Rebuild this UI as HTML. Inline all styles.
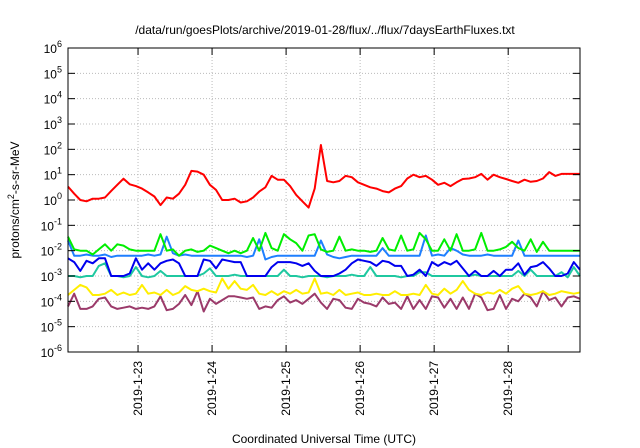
<!DOCTYPE html>
<html><head><meta charset="utf-8"><style>
html,body{margin:0;padding:0;background:#fff;}
svg{display:block;font-family:"Liberation Sans",sans-serif;}
</style></head><body>
<svg id="chart" width="640" height="448" viewBox="0 0 640 448" xmlns="http://www.w3.org/2000/svg">
<rect x="0" y="0" width="640" height="448" fill="#fff"/>
<text x="325" y="34" font-size="12" text-anchor="middle" fill="#000">/data/run/goesPlots/archive/2019-01-28/flux/../flux/7daysEarthFluxes.txt</text>
<text transform="translate(19,200) rotate(-90)" font-size="12" text-anchor="middle" fill="#000">protons/cm<tspan dy="-5" font-size="9">2</tspan><tspan dy="5">-s-sr-MeV</tspan></text>
<text x="324" y="443" font-size="12" text-anchor="middle" fill="#000">Coordinated Universal Time (UTC)</text>
<g id="grid"></g><g id="series"></g><g id="axes"></g>
</svg>
<script>
const yTickExps = [6,5,4,3,2,1,0,-1,-2,-3,-4,-5,-6];
const xTickDays = [23,24,25,26,27,28];
const xTickLabels = ["2019-1-23","2019-1-24","2019-1-25","2019-1-26","2019-1-27","2019-1-28"];
const tStart = 22.054, tEnd = 28.97;
const redLog = [0.53,0.25,0.0,-0.05,0.05,0.05,0.1,0.36,0.6,0.84,0.62,0.55,0.45,0.3,0.14,-0.2,0.1,0.05,0.25,0.6,1.15,1.12,1.0,0.6,0.4,0.0,0.0,0.05,-0.1,-0.05,0.1,0.33,0.5,0.95,0.8,0.8,0.55,0.2,-0.05,-0.3,0.45,2.17,0.75,0.7,0.75,0.95,0.9,0.7,0.6,0.5,0.45,0.35,0.3,0.45,0.55,0.85,1.0,0.9,0.95,0.8,0.6,0.68,0.55,0.7,0.83,0.85,0.9,1.03,0.8,1.0,0.9,0.83,0.75,0.68,0.8,0.72,0.75,0.85,1.1,0.95,1.03,1.03,1.03,1.03];
const greenLog = [-1.45,-1.95,-2.0,-2.0,-2.15,-1.95,-1.75,-2.0,-1.75,-1.8,-1.95,-2.0,-2.0,-2.0,-2.0,-1.35,-2.0,-1.95,-2.2,-2.0,-1.95,-2.05,-2.0,-1.8,-1.9,-2.0,-2.1,-2.0,-2.1,-2.0,-1.5,-2.0,-1.3,-1.9,-2.0,-1.35,-1.55,-1.7,-2.0,-1.4,-1.35,-1.95,-2.05,-2.0,-1.45,-2.0,-1.95,-2.0,-2.0,-2.05,-2.0,-1.5,-1.95,-2.0,-1.4,-2.0,-1.95,-1.3,-1.55,-2.0,-2.0,-1.55,-2.0,-1.35,-2.0,-2.0,-1.95,-1.3,-2.0,-2.0,-1.95,-1.85,-1.65,-1.9,-2.0,-1.55,-2.05,-1.65,-2.0,-2.0,-2.0,-2.0,-2.0,-2.0];
const lightBlueLog = [-1.6,-2.2,-2.2,-2.15,-2.2,-2.2,-2.15,-2.25,-2.2,-2.2,-2.2,-2.2,-2.2,-2.15,-2.2,-2.15,-1.45,-2.1,-2.2,-2.15,-2.2,-2.2,-2.2,-2.2,-2.2,-2.2,-2.2,-2.2,-2.2,-2.25,-2.2,-1.55,-2.35,-2.25,-2.2,-2.2,-2.2,-2.2,-2.2,-2.2,-2.2,-1.6,-2.15,-2.25,-2.3,-2.25,-2.2,-2.2,-2.2,-2.2,-2.2,-1.9,-2.2,-2.2,-2.2,-2.2,-2.2,-2.2,-1.4,-2.2,-2.15,-2.2,-1.9,-2.0,-2.15,-2.2,-2.2,-2.2,-2.15,-2.2,-2.2,-2.2,-2.2,-1.6,-2.2,-2.2,-2.2,-2.2,-2.2,-2.2,-2.2,-2.2,-2.2,-2.2];
const blueLog = [-2.3,-2.45,-2.8,-2.4,-2.5,-2.3,-2.3,-3.0,-3.0,-3.0,-2.9,-2.3,-2.75,-2.5,-2.75,-2.5,-2.4,-2.35,-2.5,-3.0,-3.0,-3.0,-2.35,-2.4,-2.7,-2.35,-2.4,-2.45,-2.45,-3.0,-3.0,-3.0,-3.0,-2.65,-2.45,-2.45,-2.45,-2.5,-2.6,-2.5,-2.8,-3.0,-3.0,-3.0,-2.9,-2.75,-2.5,-2.35,-2.4,-2.45,-2.6,-2.4,-2.45,-2.6,-2.6,-3.0,-2.95,-2.75,-3.0,-2.45,-2.6,-2.45,-2.55,-2.4,-2.7,-3.0,-2.8,-3.0,-3.0,-2.8,-3.0,-2.75,-2.75,-2.5,-2.95,-2.65,-2.6,-2.45,-2.7,-3.0,-3.0,-2.9,-2.45,-2.75];
const tealLog = [-3.0,-3.0,-3.05,-3.0,-3.0,-2.6,-2.5,-3.0,-3.0,-3.05,-3.0,-2.65,-3.0,-3.05,-3.0,-2.8,-3.0,-3.0,-3.0,-3.0,-3.0,-3.0,-2.9,-2.7,-3.0,-3.0,-3.0,-2.95,-3.0,-3.0,-3.0,-3.0,-3.0,-3.0,-3.0,-2.75,-3.0,-3.0,-3.05,-3.0,-3.0,-3.0,-3.05,-3.0,-3.0,-3.0,-2.95,-3.0,-3.0,-2.65,-3.0,-3.0,-3.0,-3.0,-3.05,-3.0,-3.0,-2.85,-2.85,-3.0,-3.0,-3.0,-3.0,-3.0,-3.0,-3.0,-2.95,-3.0,-3.0,-3.0,-3.0,-3.0,-3.0,-2.8,-3.0,-2.75,-3.0,-3.0,-3.0,-3.0,-2.85,-3.05,-2.65,-3.0];
const yellowLog = [-3.75,-3.55,-3.35,-3.45,-3.75,-3.75,-3.7,-3.55,-3.75,-3.65,-3.75,-3.7,-3.35,-3.7,-3.65,-3.75,-3.55,-3.75,-3.65,-3.4,-3.55,-3.6,-3.5,-3.6,-3.65,-3.1,-3.5,-3.2,-3.5,-3.55,-3.35,-3.7,-3.75,-3.6,-3.75,-3.6,-3.7,-3.55,-3.7,-3.65,-3.1,-3.7,-3.65,-3.75,-3.55,-3.75,-3.7,-3.65,-3.75,-3.75,-3.7,-3.75,-3.75,-3.6,-3.75,-3.75,-3.7,-3.75,-3.35,-3.7,-3.75,-3.5,-3.7,-3.55,-3.2,-3.55,-3.7,-3.75,-3.65,-3.7,-3.55,-3.7,-3.5,-3.4,-3.7,-3.75,-3.7,-3.6,-3.75,-3.7,-3.6,-3.65,-3.7,-3.65];
const purpleLog = [-4.2,-3.7,-4.3,-4.3,-4.2,-3.9,-3.85,-4.2,-4.3,-4.25,-4.2,-4.3,-4.25,-4.3,-4.2,-3.8,-4.35,-4.3,-4.1,-3.75,-4.15,-3.6,-4.4,-3.9,-4.1,-3.95,-3.8,-3.8,-3.85,-3.9,-3.85,-4.3,-4.2,-4.25,-3.95,-3.8,-4.05,-3.95,-4.1,-3.9,-3.7,-4.05,-4.3,-3.9,-3.95,-4.25,-4.3,-3.9,-4.05,-4.1,-4.2,-3.85,-4.1,-4.05,-4.3,-3.8,-4.3,-3.95,-4.3,-3.8,-3.85,-4.25,-3.9,-4.3,-3.85,-4.3,-3.7,-3.85,-4.35,-4.3,-3.75,-4.3,-3.9,-4.0,-3.7,-3.85,-4.2,-3.6,-3.95,-3.85,-4.2,-3.85,-3.8,-3.9];

const L=68, R=580, T=48, B=352;
const NS="http://www.w3.org/2000/svg";
function xScale(t){return L+(t-tStart)/(tEnd-tStart)*(R-L);}
function yScale(e){return B-(e+6)/12*(B-T);}
function mk(tag,attrs,parent){const el=document.createElementNS(NS,tag);for(const k in attrs)el.setAttribute(k,attrs[k]);parent.appendChild(el);return el;}
const grid=document.getElementById('grid'), axes=document.getElementById('axes'), ser=document.getElementById('series');

yTickExps.forEach(e=>{
  const y=yScale(e);
  if(e<6&&e>-6){const g=mk('line',{x1:L,x2:R,y1:y,y2:y,stroke:'#bbb','stroke-width':1,'stroke-dasharray':'1,2'},grid);
  
  }
  const t1=mk('line',{x1:L,x2:L+7,y1:y,y2:y,stroke:'#000'},axes);
  
  
  const t2=mk('line',{x1:R-7,x2:R,y1:y,y2:y,stroke:'#000'},axes);
  
  
  const tx=mk('text',{x:L-6,y:y+5,'font-size':12,'text-anchor':'end',fill:'#000'},axes);
  
  
  tx.appendChild(document.createTextNode('10'));
  const sp=mk('tspan',{dy:-6,'font-size':9},tx); sp.textContent=String(e).replace('-','-');
});
xTickDays.forEach((d,i)=>{
  const x=xScale(d);
  const g=mk('line',{x1:x,x2:x,y1:T,y2:B,stroke:'#bbb','stroke-width':1,'stroke-dasharray':'1,2'},grid);
  
  
  const t1=mk('line',{x1:x,x2:x,y1:B-7,y2:B,stroke:'#000'},axes);
  
  
  const t2=mk('line',{x1:x,x2:x,y1:T,y2:T+7,stroke:'#000'},axes);
  
  
  const tx=mk('text',{transform:`translate(${x+4},${B+9}) rotate(-90)`,'font-size':12,'text-anchor':'end',fill:'#000'},axes);
  
  
  tx.textContent=xTickLabels[i];
});
const frame=mk('rect',{x:L,y:T,width:R-L,height:B-T,fill:'none',stroke:'#000','stroke-width':1},axes);



function drawSeries(vals,color,name){
  const n=vals.length;
  const pts=vals.map((v,i)=>{const t=tStart+i*(tEnd-tStart)/(n-1);return xScale(t).toFixed(1)+','+yScale(v).toFixed(1);}).join(' ');
  const p=mk('polyline',{points:pts,fill:'none',stroke:color,'stroke-width':2,'stroke-linejoin':'round'},ser);
  
  
}
drawSeries(purpleLog,'#9b3a6a','series-purple');
drawSeries(yellowLog,'#ffee00','series-yellow');
drawSeries(tealLog,'#1fc8a0','series-teal');
drawSeries(blueLog,'#0000ee','series-blue');
drawSeries(lightBlueLog,'#1e7fff','series-light-blue');
drawSeries(greenLog,'#00ee00','series-green');
drawSeries(redLog,'#ff0000','series-red');
</script>
</body></html>
